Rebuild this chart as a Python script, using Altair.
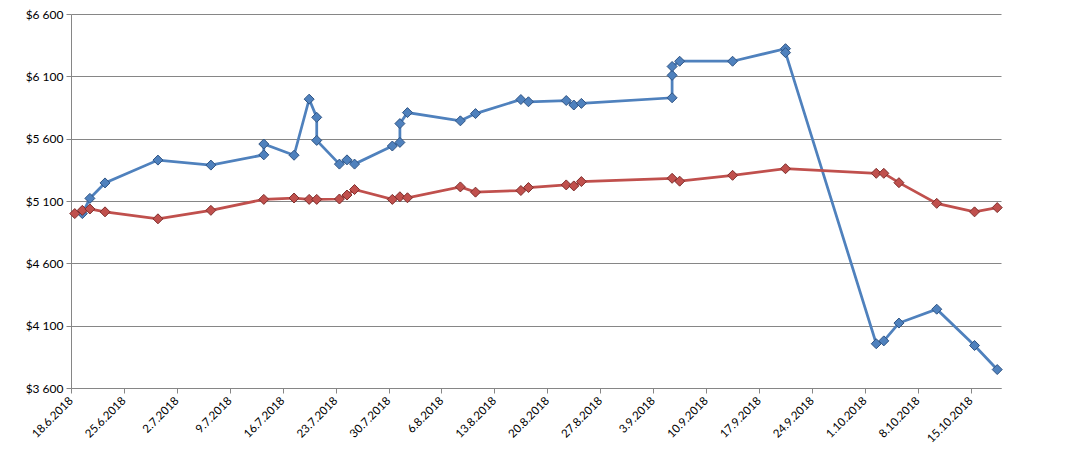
import altair as alt
import pandas as pd

# ---- data ----
blue_dates = ["19.6.2018", "20.6.2018", "22.6.2018", "29.6.2018", "6.7.2018",
              "13.7.2018", "13.7.2018", "17.7.2018", "19.7.2018", "20.7.2018",
              "20.7.2018", "23.7.2018", "24.7.2018", "25.7.2018", "30.7.2018",
              "31.7.2018", "31.7.2018", "1.8.2018", "8.8.2018", "10.8.2018",
              "16.8.2018", "17.8.2018", "22.8.2018", "23.8.2018", "24.8.2018",
              "5.9.2018", "5.9.2018", "5.9.2018", "6.9.2018", "13.9.2018",
              "20.9.2018", "20.9.2018", "2.10.2018", "3.10.2018", "5.10.2018",
              "10.10.2018", "15.10.2018", "18.10.2018"]
blue_values = [4999, 5121, 5245, 5428, 5388,
               5470, 5557, 5467, 5917, 5771,
               5586, 5396, 5430, 5396, 5541,
               5570, 5721, 5809, 5743, 5801,
               5914, 5896, 5906, 5870, 5883,
               5928, 6108, 6179, 6221, 6221,
               6322, 6290, 3955, 3978, 4121,
               4232, 3941, 3748]

red_dates = ["18.6.2018", "19.6.2018", "20.6.2018", "22.6.2018", "29.6.2018",
             "6.7.2018", "13.7.2018", "17.7.2018", "19.7.2018", "20.7.2018",
             "23.7.2018", "24.7.2018", "25.7.2018", "30.7.2018", "31.7.2018",
             "1.8.2018", "8.8.2018", "10.8.2018", "16.8.2018", "17.8.2018",
             "22.8.2018", "23.8.2018", "24.8.2018", "5.9.2018", "6.9.2018",
             "13.9.2018", "20.9.2018", "2.10.2018", "3.10.2018", "5.10.2018",
             "10.10.2018", "15.10.2018", "18.10.2018"]
red_values = [4999, 5025, 5036, 5013, 4957,
              5025, 5113, 5124, 5113, 5113,
              5116, 5148, 5192, 5113, 5134,
              5126, 5213, 5171, 5184, 5208,
              5229, 5221, 5256, 5282, 5259,
              5306, 5359, 5322, 5322, 5247,
              5081, 5013, 5047]

tick_labels = ["18.6.2018", "25.6.2018", "2.7.2018", "9.7.2018", "16.7.2018",
               "23.7.2018", "30.7.2018", "6.8.2018", "13.8.2018", "20.8.2018",
               "27.8.2018", "3.9.2018", "10.9.2018", "17.9.2018", "24.9.2018",
               "1.10.2018", "8.10.2018", "15.10.2018"]
x_start, x_end = "18.6.2018", "19.10.2018"
y_ticks = [3600, 4100, 4600, 5100, 5600, 6100, 6600]

BLUE, BLUE_EDGE = "#4F81BD", "#2F5484"
RED, RED_EDGE = "#C0504D", "#7F2E2C"
GRID = "#868686"


def to_ms(s, offset_h=0.0):
    d = pd.to_datetime(pd.Series(s), format="%d.%m.%Y")
    return ((d - pd.Timestamp("1970-01-01")) // pd.Timedelta("1ms") + int(offset_h * 3600000)).tolist()


blue = pd.DataFrame({"t": to_ms(blue_dates, 12), "v": blue_values,
                     "idx": range(len(blue_values))})
red = pd.DataFrame({"t": to_ms(red_dates, 12), "v": red_values,
                    "idx": range(len(red_values))})

tick_ms = to_ms(tick_labels)
dom = to_ms([x_start, x_end])

x_enc = alt.X("t:T",
              scale=alt.Scale(type="utc", domain=dom),
              axis=alt.Axis(values=tick_ms,
                            labelExpr="utcFormat(datum.value, '%-d.%-m.%Y')",
                            labelAngle=-45, labelAlign="right", labelBaseline="middle",
                            labelPadding=6, tickSize=5, grid=False, title=None,
                            domainColor=GRID, tickColor=GRID, labelColor="#000000",
                            labelFont="Lato", labelFontSize=11.5, labelOverlap=False))
y_enc = alt.Y("v:Q",
              scale=alt.Scale(domain=[3600, 6600], nice=False, zero=False),
              axis=alt.Axis(values=y_ticks, grid=True, gridColor=GRID, gridWidth=1,
                            labelExpr='"$" + replace(format(datum.value, ","), ",", " ")',
                            tickSize=5, title=None, domainColor=GRID, tickColor=GRID,
                            labelColor="#000000", labelFont="Lato", labelFontSize=12,
                            labelPadding=3))


def line(df, color):
    return alt.Chart(df).mark_line(color=color, strokeWidth=2.75).encode(
        x=x_enc, y=y_enc, order="idx:Q")


def pts(df, color, edge):
    return alt.Chart(df).mark_point(shape="diamond", filled=True, size=100, fill=color,
                                    stroke=edge, strokeWidth=1, opacity=1).encode(
        x=x_enc, y=y_enc)


chart = alt.layer(
    line(blue, BLUE), line(red, RED),
    pts(blue, BLUE, BLUE_EDGE), pts(red, RED, RED_EDGE)
).properties(
    width=930, height=374,
    autosize=alt.AutoSizeParams(type="none"),
    padding={"left": 63, "top": 6, "right": 56, "bottom": 70},
).configure_view(stroke=None)

chart.save("out.html", embed_options={"renderer": "svg", "actions": False})
